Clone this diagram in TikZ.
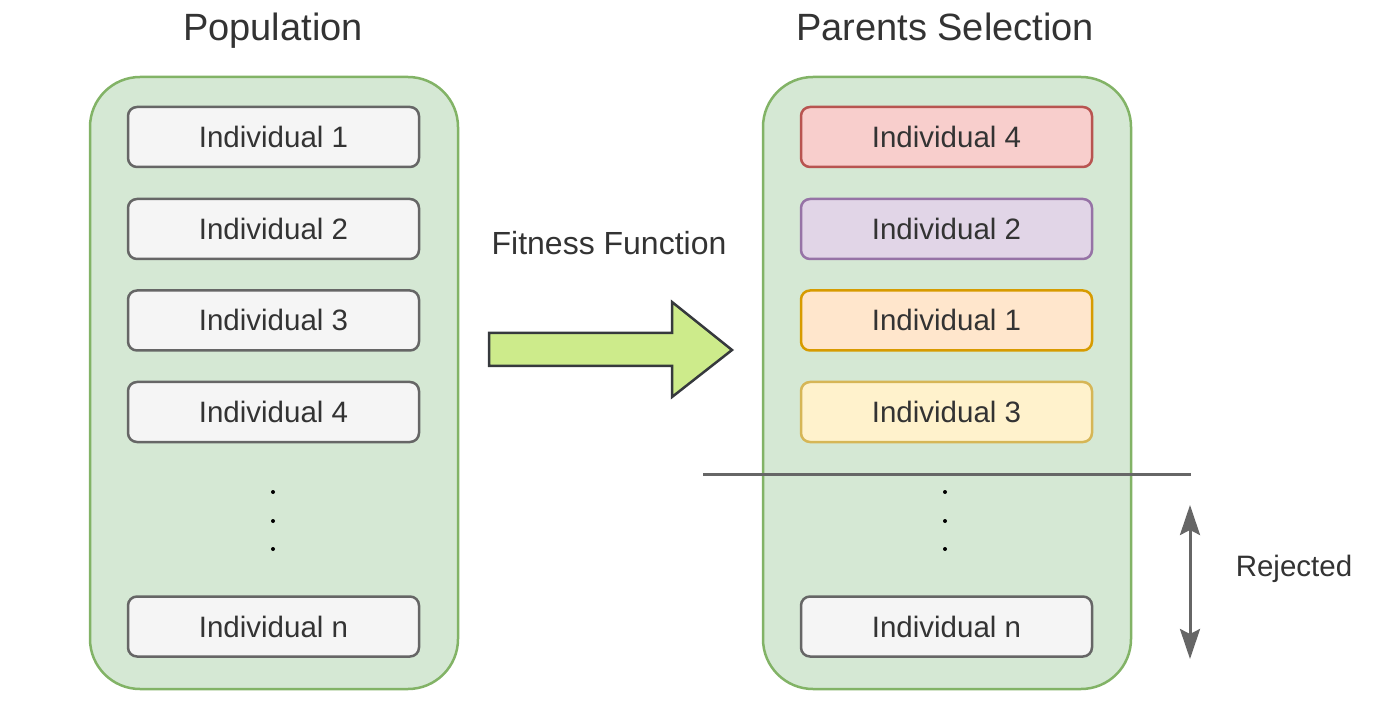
\documentclass[tikz,border=0pt]{standalone}
\usepackage{fontspec}
\setmainfont{Liberation Sans}
\usetikzlibrary{arrows.meta}
\definecolor{txt}{HTML}{333333}
\definecolor{grfill}{HTML}{D5E8D4}
\definecolor{grline}{HTML}{82B366}
\definecolor{gyfill}{HTML}{F5F5F5}
\definecolor{gyline}{HTML}{666666}
\definecolor{rdfill}{HTML}{F8CECC}
\definecolor{rdline}{HTML}{B85450}
\definecolor{pufill}{HTML}{E1D5E7}
\definecolor{puline}{HTML}{9673A6}
\definecolor{orfill}{HTML}{FFE6CC}
\definecolor{orline}{HTML}{D79B00}
\definecolor{yefill}{HTML}{FFF2CC}
\definecolor{yeline}{HTML}{D6B656}
\definecolor{arfill}{HTML}{CDEB8B}
\definecolor{arline}{HTML}{36393D}
\tikzset{
  container/.style={draw=grline, fill=grfill, line width=2.5pt, rounded corners=50pt, minimum width=368pt, minimum height=612pt},
  indiv/.style={draw=gyline, fill=gyfill, line width=2.5pt, rounded corners=9pt, minimum width=291pt, minimum height=60pt, text=txt, font=\fontsize{29.5}{34}\selectfont, inner sep=0pt, text height=21pt, text depth=0pt},
  title/.style={text=txt, font=\fontsize{38}{44}\selectfont, inner sep=0pt, text height=27pt, text depth=0pt},
  lbl/.style={text=txt, font=\fontsize{32}{38}\selectfont, inner sep=0pt, text height=23pt, text depth=0pt},
  dot/.style={fill=black, circle, minimum size=4pt, inner sep=0pt},
  gline/.style={draw=gyline, line width=3pt},
  rejarrows/.style={{Stealth[length=30pt,width=20pt,inset=5pt]}-{Stealth[length=30pt,width=20pt,inset=5pt]}},
}
\begin{document}
\begin{tikzpicture}[x=1pt, y=-1pt]
\useasboundingbox (0,0) rectangle (1385,711);
% containers
\node[container] (popbox) at (274,383) {};
\node[container] (selbox) at (947,383) {};
% titles
\node[title] (poptitle) at (273,27.5) {Population};
\node[title] (seltitle) at (945,27.5) {Parents Selection};
% left individuals
\node[indiv] (l1) at (273.5,137) {Individual 1};
\node[indiv] (l2) at (273.5,229) {Individual 2};
\node[indiv] (l3) at (273.5,320.5) {Individual 3};
\node[indiv] (l4) at (273.5,412) {Individual 4};
\node[indiv] (ln) at (273.5,626.5) {Individual n};
\node[dot] (ld1) at (273,492) {};
\node[dot] (ld2) at (273,521) {};
\node[dot] (ld3) at (273,549) {};
% right individuals
\node[indiv, draw=rdline, fill=rdfill] (r4) at (946.5,137) {Individual 4};
\node[indiv, draw=puline, fill=pufill] (r2) at (946.5,229) {Individual 2};
\node[indiv, draw=orline, fill=orfill] (r1) at (946.5,320.5) {Individual 1};
\node[indiv, draw=yeline, fill=yefill] (r3) at (946.5,412) {Individual 3};
\node[indiv] (rn) at (946.5,626.5) {Individual n};
\node[dot] (rd1) at (945,492) {};
\node[dot] (rd2) at (945,521) {};
\node[dot] (rd3) at (945,549) {};
% fitness arrow
\node[lbl] (fit) at (609,243) {Fitness Function};
\draw[draw=arline, fill=arfill, line width=2.5pt, line join=miter]
  (489,333) -- (672,333) -- (672,302) -- (732,350) -- (672,397) -- (672,366) -- (489,366) -- cycle;
% cut line
\coordinate (cutL) at (703,474);
\coordinate (cutR) at (1191,474);
\draw[gline] (cutL) -- (cutR);
% rejected arrow
\coordinate (rejT) at (1190,505);
\coordinate (rejB) at (1190,659);
\draw[gline, rejarrows] (rejT) -- (rejB);
\node[lbl, font=\fontsize{29.5}{34}\selectfont, text height=21pt] (rej) at (1294,566) {Rejected};
\end{tikzpicture}
\end{document}
